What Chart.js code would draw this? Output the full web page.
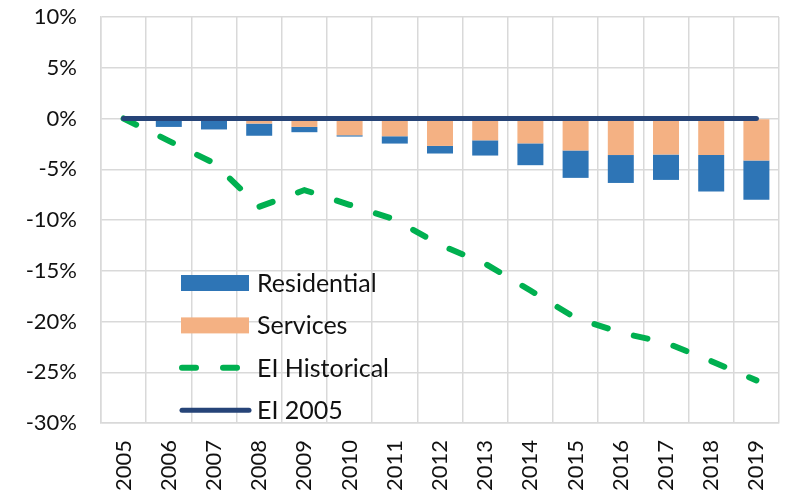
<!DOCTYPE html>
<html>
<head>
<meta charset="utf-8">
<script src="https://cdn.jsdelivr.net/npm/chart.js@4.4.1/dist/chart.umd.min.js"></script>
<style>
  html, body { margin: 0; padding: 0; background: #fff; }
  #wrap { width: 787px; height: 496px; }
</style>
</head>
<body>
<div id="wrap"><canvas id="chart" width="787" height="496"></canvas></div>
<script>
/* Stacked bars (Services / Residential) with EI lines, values in % vs 2005. */

const years = ['2005', '2006', '2007', '2008', '2009', '2010', '2011', '2012',
  '2013', '2014', '2015', '2016', '2017', '2018', '2019'];
const services = [0, 0, 0, -0.5, -0.83, -1.65, -1.75, -2.7, -2.15, -2.45, -3.15, -3.6, -3.55, -3.6, -4.15];
const residential = [0, -0.83, -1.08, -1.2, -0.52, -0.13, -0.72, -0.75, -1.5, -2.15, -2.7, -2.75, -2.5, -3.6, -3.85];
const eiHistorical = [0, -2.2, -4.4, -8.7, -7.05, -8.5, -9.95, -12.45, -14.3, -16.95, -19.65, -21.1, -22.1, -23.9, -25.8];
const ei2005 = [0, 0, 0, 0, 0, 0, 0, 0, 0, 0, 0, 0, 0, 0, 0];
const legendOrder = ['Residential', 'Services', 'EI Historical', 'EI 2005'];

const FONT = 'Lato, "Open Sans", sans-serif';
const TEXT = '#111';
const GRID = '#d9d9d9';

// The reference legend sits inside the plot area, so draw it by hand.
const insideLegend = {
  id: 'insideLegend',
  afterDraw(chart) {
    const ctx = chart.ctx;
    const x0 = 181, sw = 68, tx = 257;
    ctx.save();
    ctx.font = '25px ' + FONT;
    ctx.textBaseline = 'middle';
    ctx.fillStyle = TEXT;
    legendOrder.forEach((label, i) => {
      const ds = chart.data.datasets.find((d) => d.label === label);
      const y = 283 + i * 42.4;
      if (ds.type === 'line') {
        ctx.save();
        ctx.strokeStyle = ds.borderColor;
        ctx.lineWidth = ds.borderWidth;
        ctx.lineCap = 'round';
        ctx.setLineDash(ds.borderDash || []);
        ctx.beginPath();
        ctx.moveTo(x0 + 1, y);
        ctx.lineTo(x0 + sw, y);
        ctx.stroke();
        ctx.restore();
      } else {
        ctx.fillStyle = ds.backgroundColor;
        ctx.fillRect(x0, y - 8, sw, 16);
        ctx.fillStyle = TEXT;
      }
      ctx.fillText(label, tx, y + 1);
    });
    ctx.restore();
  },
};

// fixed axis sizes; drop the label-overflow padding chart.js adds
function fixSize(prop, px) {
  return (scale) => {
    scale[prop] = px;
    scale.paddingTop = scale.paddingBottom = scale.paddingLeft = scale.paddingRight = 0;
  };
}

new Chart(document.getElementById('chart'), {
  data: {
    labels: years,
    datasets: [
      {
        type: 'line', label: 'EI 2005', data: ei2005,
        borderColor: '#264478', borderWidth: 5, borderCapStyle: 'round',
        pointRadius: 0, tension: 0,
      },
      {
        type: 'line', label: 'EI Historical', data: eiHistorical,
        borderColor: '#00b050', borderWidth: 6, borderCapStyle: 'round',
        borderDash: [14, 27], pointRadius: 0, tension: 0,
      },
      {
        type: 'bar', label: 'Services', data: services, stack: 's',
        backgroundColor: '#f4b183', barPercentage: 0.575, categoryPercentage: 1,
      },
      {
        type: 'bar', label: 'Residential', data: residential, stack: 's',
        backgroundColor: '#2e75b6', barPercentage: 0.575, categoryPercentage: 1,
      },
    ],
  },
  options: {
    responsive: false,
    animation: false,
    layout: { padding: { top: 17, right: 8, left: 0, bottom: 0 } },
    plugins: { legend: { display: false }, tooltip: { enabled: false } },
    scales: {
      x: {
        stacked: true,
        offset: true,
        grid: { color: GRID, lineWidth: 1.5, offset: true, drawTicks: false },
        border: { color: GRID, width: 1.5 },
        ticks: {
          color: TEXT, font: { family: FONT, size: 22 },
          minRotation: 90, maxRotation: 90, padding: 17, autoSkip: false,
        },
        afterFit: fixSize('height', 73),
      },
      y: {
        stacked: true,
        min: -30, max: 10,
        grid: { color: GRID, lineWidth: 1.5, drawTicks: false },
        border: { color: GRID, width: 1.5 },
        ticks: {
          stepSize: 5, color: TEXT, font: { family: FONT, size: 22 }, padding: 24,
          callback: (v) => v + '%',
        },
        afterFit: fixSize('width', 101),
      },
    },
  },
  plugins: [insideLegend],
});
</script>
</body>
</html>
